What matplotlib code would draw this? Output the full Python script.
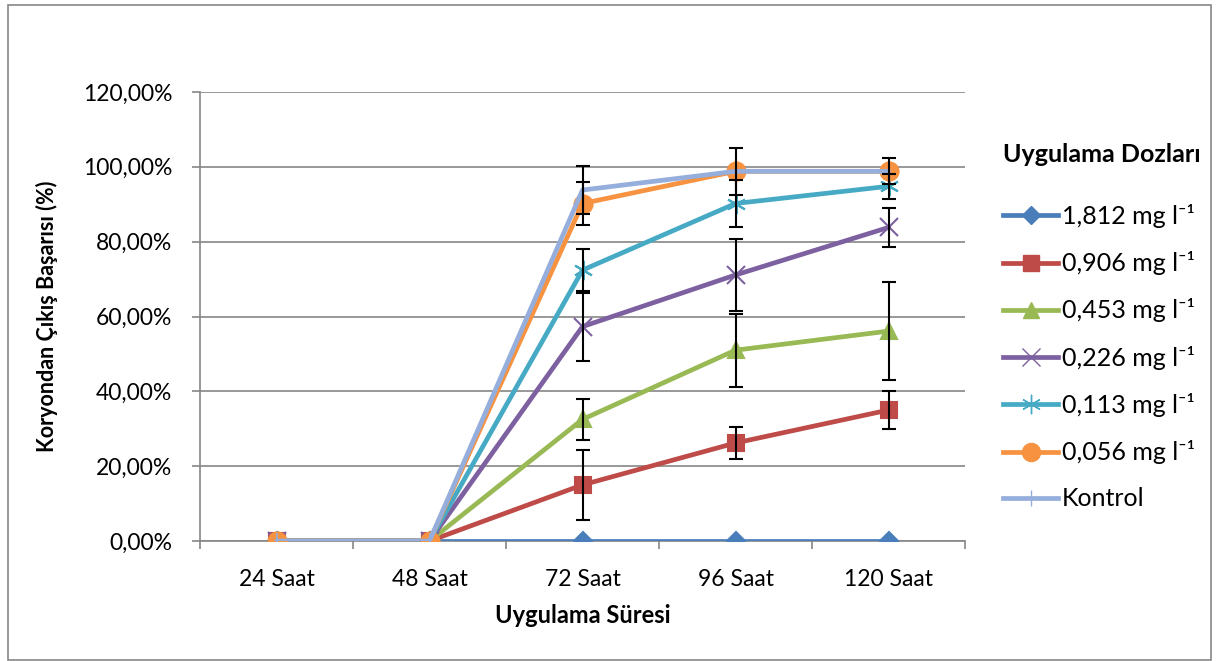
import matplotlib
matplotlib.use("Agg")
import matplotlib.pyplot as plt
import matplotlib.patches as mpatches
from matplotlib.lines import Line2D
import numpy as np

plt.rcParams["font.family"] = ["Lato", "DejaVu Sans"]

# ---- data ----
categories = ["24 Saat", "48 Saat", "72 Saat", "96 Saat", "120 Saat"]
labels = ["1,812 mg l\u207b\u00b9", "0,906 mg l\u207b\u00b9", "0,453 mg l\u207b\u00b9",
          "0,226 mg l\u207b\u00b9", "0,113 mg l\u207b\u00b9", "0,056 mg l\u207b\u00b9", "Kontrol"]

d1812 = [0, 0, 0, 0, 0]
d0906 = [0, 0, 15.0, 26.2, 35.0]
d0453 = [0, 0, 32.5, 51.0, 56.1]
d0226 = [0, 0, 57.3, 71.1, 83.8]
d0113 = [0, 0, 72.4, 90.2, 94.8]
d0056 = [0, 0, 90.2, 98.8, 98.8]
kontrol = [0, 0, 93.8, 98.8, 98.8]

e1812 = [0, 0, 0, 0, 0]
e0906 = [0, 0, 9.4, 4.2, 5.0]
e0453 = [0, 0, 5.5, 9.8, 13.0]
e0226 = [0, 0, 9.1, 9.7, 5.3]
e0113 = [0, 0, 5.6, 6.4, 3.4]
e0056 = [0, 0, 5.8, 6.2, 3.5]
ekontrol = [0, 0, 6.3, 0, 0]

series = [d1812, d0906, d0453, d0226, d0113, d0056, kontrol]
errors = [e1812, e0906, e0453, e0226, e0113, e0056, ekontrol]

colors = ["#4A7EBB", "#BE4B48", "#98B954", "#7D60A0", "#46AAC5", "#F69240", "#95AEDB"]
markers = ["D", "s", "^", "x", (6, 2, 0), "o", "|"]
msizes = [9, 12, 12, 13, 14, 13, 12]

# ---- plot ----
fig = plt.figure(figsize=(12.19, 6.61), dpi=100)
ax = fig.add_axes([200 / 1219, 1 - 541 / 661, 765 / 1219, 449 / 661])

x = np.arange(len(categories))
for i, (vals, err) in enumerate(zip(series, errors)):
    ax.plot(x, vals, color=colors[i], linewidth=3.4, marker=markers[i],
            markersize=msizes[i], markeredgewidth=1.5 if markers[i] != "|" else 1.2,
            markeredgecolor=colors[i], markerfacecolor=colors[i],
            label=labels[i], zorder=3 + i, solid_capstyle="round")
for i, (vals, err) in enumerate(zip(series, errors)):
    e = np.array(err)
    m = e > 0
    ax.errorbar(x[m], np.array(vals)[m], yerr=e[m], fmt="none", ecolor="black",
                elinewidth=1.5, capsize=5, capthick=1.5, zorder=20)

ax.set_xlim(-0.5, 4.5)
ax.set_ylim(0, 120)
ax.set_yticks(np.arange(0, 121, 20))
ax.set_yticklabels([f"{v},00%" for v in range(0, 121, 20)], fontsize=16.5)
ax.set_xticks(x)
ax.set_xticklabels(categories, fontsize=16.5)
ax.tick_params(axis="x", which="major", length=0, pad=20)
ax.set_xticks(np.arange(-0.5, 4.6, 1), minor=True)
ax.tick_params(axis="x", which="minor", length=6, color="#868686", width=1.2)
ax.tick_params(axis="y", length=6, color="#868686", width=1.2, pad=14)
ax.grid(axis="y", color="#868686", linewidth=1.2)
ax.set_axisbelow(True)
for s in ["top", "right"]:
    ax.spines[s].set_visible(False)
for s in ["left", "bottom"]:
    ax.spines[s].set_color("#868686")
    ax.spines[s].set_linewidth(1.2)

ax.set_xlabel("Uygulama Süresi", fontsize=17, fontweight="bold", labelpad=10)
ax.set_ylabel("Koryondan Çıkış Başarısı (%)", fontsize=15.5, fontweight="bold", labelpad=18)

# legend
handles = [Line2D([0], [0], color=colors[i], linewidth=3.4, marker=markers[i],
                  markersize=msizes[i], markeredgecolor=colors[i], markerfacecolor=colors[i])
           for i in range(len(labels))]
leg = fig.legend(handles, labels, loc="upper left", bbox_to_anchor=(1003 / 1219, 1 - 204 / 661),
                 frameon=False, fontsize=18, handlelength=2.2, handletextpad=0.15,
                 labelspacing=0.93, borderaxespad=0, borderpad=0)
fig.text(1003 / 1219, 1 - 155 / 661, "Uygulama Dozları", fontsize=18, fontweight="bold",
         ha="left", va="center")

# chart area border
fig.patches.append(mpatches.Rectangle((8 / 1219, 0.002), 1 - 16 / 1219, 1 - 6 / 661,
                                      transform=fig.transFigure, fill=False,
                                      edgecolor="#868686", linewidth=1.2))

fig.savefig("out.png", dpi=100)
